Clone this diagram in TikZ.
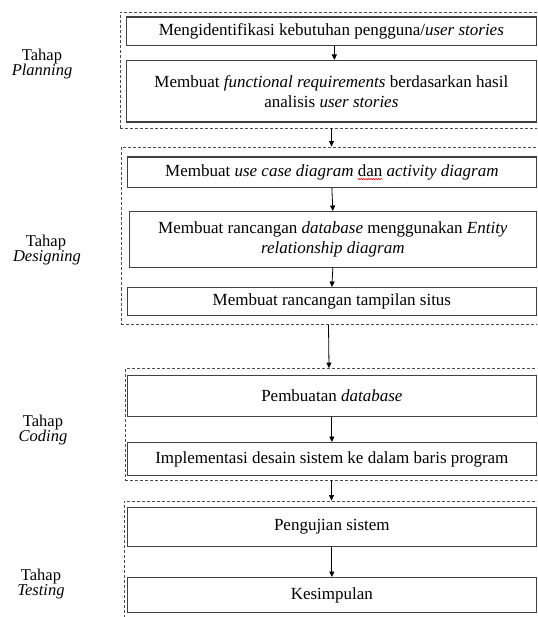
\documentclass[tikz,border=0pt]{standalone}
\usepackage{fontspec}
\setmainfont{Liberation Serif}
\newfontfamily\tnr{Liberation Serif}
\usetikzlibrary{arrows.meta,fit,decorations.pathmorphing}

\tikzset{
  stage/.style={draw=black!70, dashed, dash pattern=on 3pt off 2pt, line width=0.8pt,
                inner sep=0pt, rectangle},
  stepbox/.style={draw=black!75, line width=1.2pt, rectangle, inner sep=2pt,
                  anchor=north west, align=center, font=\tnr\fontsize{17}{20}\selectfont},
  phase/.style={anchor=base, font=\tnr\fontsize{16.5}{18}\selectfont},
  arr/.style={draw=black, line width=0.8pt, -{Triangle[length=5.5pt,width=5pt]}},
  spell/.style={draw=red, line width=0.6pt, decorate,
                decoration={snake, amplitude=0.7pt, segment length=2.5pt}},
  plain/.style={draw=none, fill=none, inner sep=0pt, outer sep=0pt, anchor=center,
                minimum width=0pt, minimum height=0pt}
}

\newcommand{\boxat}[6]{% name, x, y, width, height, text
  \node[stepbox, minimum width=#4pt, minimum height=#5pt] (#1) at (#2,#3) {#6};}

\begin{document}
\begin{tikzpicture}[x=1pt, y=-1pt]
  \useasboundingbox (0,0) rectangle (537,617);
  \clip (0,0) rectangle (537,617);

  % dashed phase frames (right side runs past the page edge)
  \coordinate (p1) at (120,12);    \coordinate (p2) at (543,128);
  \coordinate (d1) at (121,147);   \coordinate (d2) at (542,324.5);
  \coordinate (c1) at (125,368.5); \coordinate (c2) at (539,480);
  \coordinate (t1) at (124,501);   \coordinate (t2) at (540,640);
  \node[stage, fit=(p1)(p2)] (P) {};
  \node[stage, fit=(d1)(d2)] (D) {};
  \node[stage, fit=(c1)(c2)] (C) {};
  \node[stage, fit=(t1)(t2)] (T) {};

  % phase labels
  \node[phase] (lPa) at (42,61)  {Tahap};
  \node[phase] (lPb) at (42,76)  {\textit{Planning}};
  \node[phase] (lDa) at (46,246) {Tahap};
  \node[phase] (lDb) at (47,261) {\textit{Designing}};
  \node[phase] (lCa) at (43,426) {Tahap};
  \node[phase] (lCb) at (43,441) {\textit{Coding}};
  \node[phase] (lTa) at (41,580) {Tahap};
  \node[phase] (lTb) at (41,595) {\textit{Testing}};

  % steps
  \boxat{b1}{126}{16.5}{409.5}{28.5}{Mengidentifikasi kebutuhan pengguna/\textit{user stories}}
  \boxat{b2}{126}{60}{409.5}{61.5}{\fontsize{17}{25}\selectfont Membuat \textit{functional requirements} berdasarkan hasil\\analisis \textit{user stories}}
  \boxat{b3}{127}{156.5}{408.5}{30.5}{Membuat \textit{use case diagram}
    \tikz[baseline=(w.base)]{\node[plain] (w) {dan};
      \draw[spell, overlay] ([yshift=-2.5pt]w.south west) -- ([yshift=-2.5pt]w.south east);}
    \textit{activity diagram}}
  \boxat{b4}{129}{211}{406.5}{55.5}{\fontsize{17}{22}\selectfont Membuat rancangan \textit{database} menggunakan \textit{Entity}\\\textit{relationship diagram}}
  \boxat{b5}{127}{287}{408.5}{28}{Membuat rancangan tampilan situs}
  \boxat{b6}{127}{375}{408.5}{41}{Pembuatan \textit{database}}
  \boxat{b7}{127}{442}{408.5}{33}{Implementasi desain sistem ke dalam baris program}
  \boxat{b8}{127}{507}{408.5}{38.5}{Pengujian sistem}
  \boxat{b9}{127}{577}{408.5}{35}{Kesimpulan}

  % flow
  \draw[arr] ([xshift=3pt]b1.south) -- ([xshift=3pt]b2.north);
  \draw[arr] (P.south) -- (D.north);
  \draw[arr] (b3.south) -- (b4.north);
  \draw[arr] (b4.south) -- (b5.north);
  \draw[arr] ([xshift=-3pt]D.south) -- ([xshift=-3pt]C.north);
  \draw[arr] (b6.south) -- (b7.north);
  \draw[arr] ([xshift=-0.5pt]C.south) -- ([xshift=-0.5pt]T.north);
  \draw[arr] (b8.south) -- (b9.north);
\end{tikzpicture}
\end{document}
